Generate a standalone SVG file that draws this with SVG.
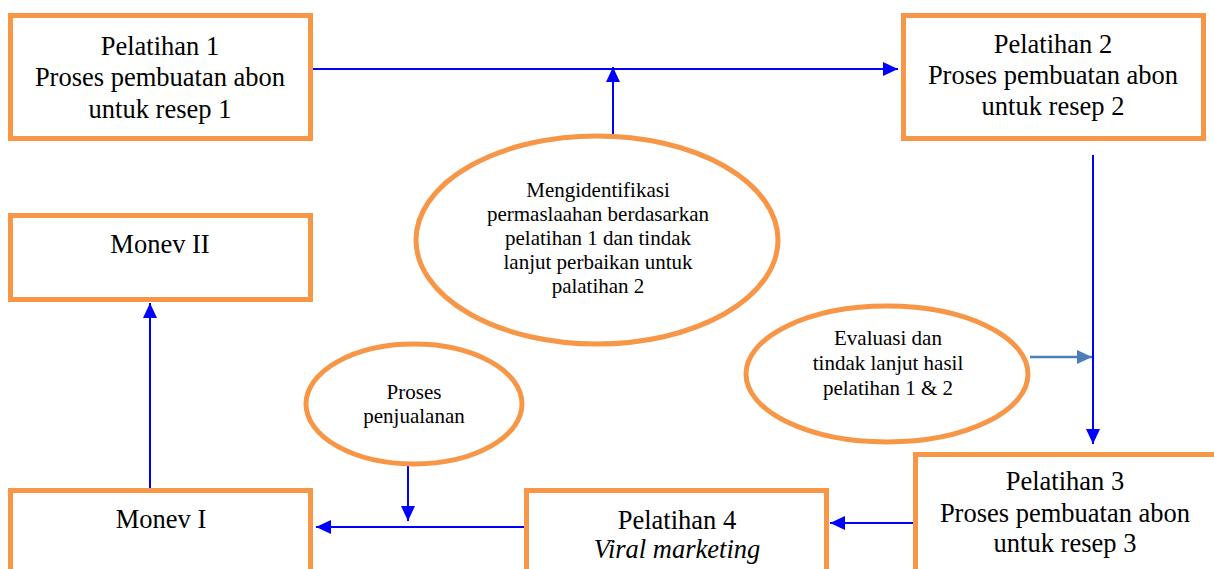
<svg xmlns="http://www.w3.org/2000/svg" width="1214" height="569" viewBox="0 0 1214 569">
<style>
.box{fill:#fff;stroke:#F79646;stroke-width:5}
.ell{fill:#fff;stroke:#F79646;stroke-width:5}
.ln{stroke:#0000FF;stroke-width:2;fill:none}
.ln2{stroke:#4A7EBB;stroke-width:2.5;fill:none}
</style>
<defs>
<marker id="ah" markerWidth="15" markerHeight="14" refX="15" refY="7" orient="auto" markerUnits="userSpaceOnUse" viewBox="0 0 15 14"><path d="M0,0 L15,7 L0,14 Z" fill="#0000FF"/></marker>
<marker id="ah2" markerWidth="15" markerHeight="14" refX="15" refY="7" orient="auto" markerUnits="userSpaceOnUse" viewBox="0 0 15 14"><path d="M0,0 L15,7 L0,14 Z" fill="#4A7EBB"/></marker>
</defs>
<g id="connectors">
<line class="ln" x1="313" y1="69" x2="898" y2="69" marker-end="url(#ah)"/>
<line class="ln" x1="613" y1="136" x2="613" y2="67" marker-end="url(#ah)"/>
<line class="ln" x1="1093" y1="155" x2="1093" y2="444" marker-end="url(#ah)"/>
<line class="ln2" x1="1030" y1="357" x2="1092" y2="357" marker-end="url(#ah2)"/>
<line class="ln" x1="913" y1="523" x2="830" y2="523" marker-end="url(#ah)"/>
<line class="ln" x1="524" y1="527" x2="316" y2="527" marker-end="url(#ah)"/>
<line class="ln" x1="408" y1="465" x2="408" y2="521" marker-end="url(#ah)"/>
<line class="ln" x1="150" y1="488" x2="150" y2="303" marker-end="url(#ah)"/>
</g>
<g font-family="Liberation Serif" fill="#000" text-anchor="middle">
<g id="pelatihan1" font-size="26.5">
<rect class="box" x="10.5" y="15.5" width="300" height="123"/>
<text x="160" y="55">Pelatihan 1</text>
<text x="160" y="86">Proses pembuatan abon</text>
<text x="160" y="118">untuk resep 1</text>
</g>
<g id="pelatihan2" font-size="26.5">
<rect class="box" x="903.5" y="15.5" width="300" height="123"/>
<text x="1053" y="53">Pelatihan 2</text>
<text x="1053" y="84">Proses pembuatan abon</text>
<text x="1053" y="115">untuk resep 2</text>
</g>
<g id="monev2" font-size="26.5">
<rect class="box" x="10.5" y="215.5" width="300" height="84"/>
<text x="160" y="253">Monev II</text>
</g>
<g id="identifikasi" font-size="21">
<ellipse class="ell" cx="597" cy="240" rx="181" ry="104"/>
<text x="598" y="197">Mengidentifikasi</text>
<text x="598" y="221">permaslaahan berdasarkan</text>
<text x="598" y="245">pelatihan 1 dan tindak</text>
<text x="598" y="269">lanjut perbaikan untuk</text>
<text x="598" y="293">palatihan 2</text>
</g>
<g id="evaluasi" font-size="21">
<ellipse class="ell" cx="887" cy="374" rx="141" ry="68"/>
<text x="888" y="345">Evaluasi dan</text>
<text x="888" y="370">tindak lanjut hasil</text>
<text x="888" y="395">pelatihan 1 &amp; 2</text>
</g>
<g id="penjualan" font-size="21">
<ellipse class="ell" cx="414" cy="404" rx="108" ry="60"/>
<text x="414" y="399">Proses</text>
<text x="414" y="423">penjualanan</text>
</g>
<g id="monev1" font-size="26.5">
<rect class="box" x="10.5" y="490.5" width="300" height="100"/>
<text x="161" y="528">Monev I</text>
</g>
<g id="pelatihan4" font-size="26.5">
<rect class="box" x="526.5" y="490.5" width="300" height="100"/>
<text x="677" y="529">Pelatihan 4</text>
<text x="677" y="558" font-style="italic">Viral marketing</text>
</g>
<g id="pelatihan3" font-size="26.5">
<rect class="box" x="915.5" y="454.5" width="310" height="130"/>
<text x="1065" y="490">Pelatihan 3</text>
<text x="1065" y="522">Proses pembuatan abon</text>
<text x="1065" y="552">untuk resep 3</text>
</g>
</g>
</svg>
